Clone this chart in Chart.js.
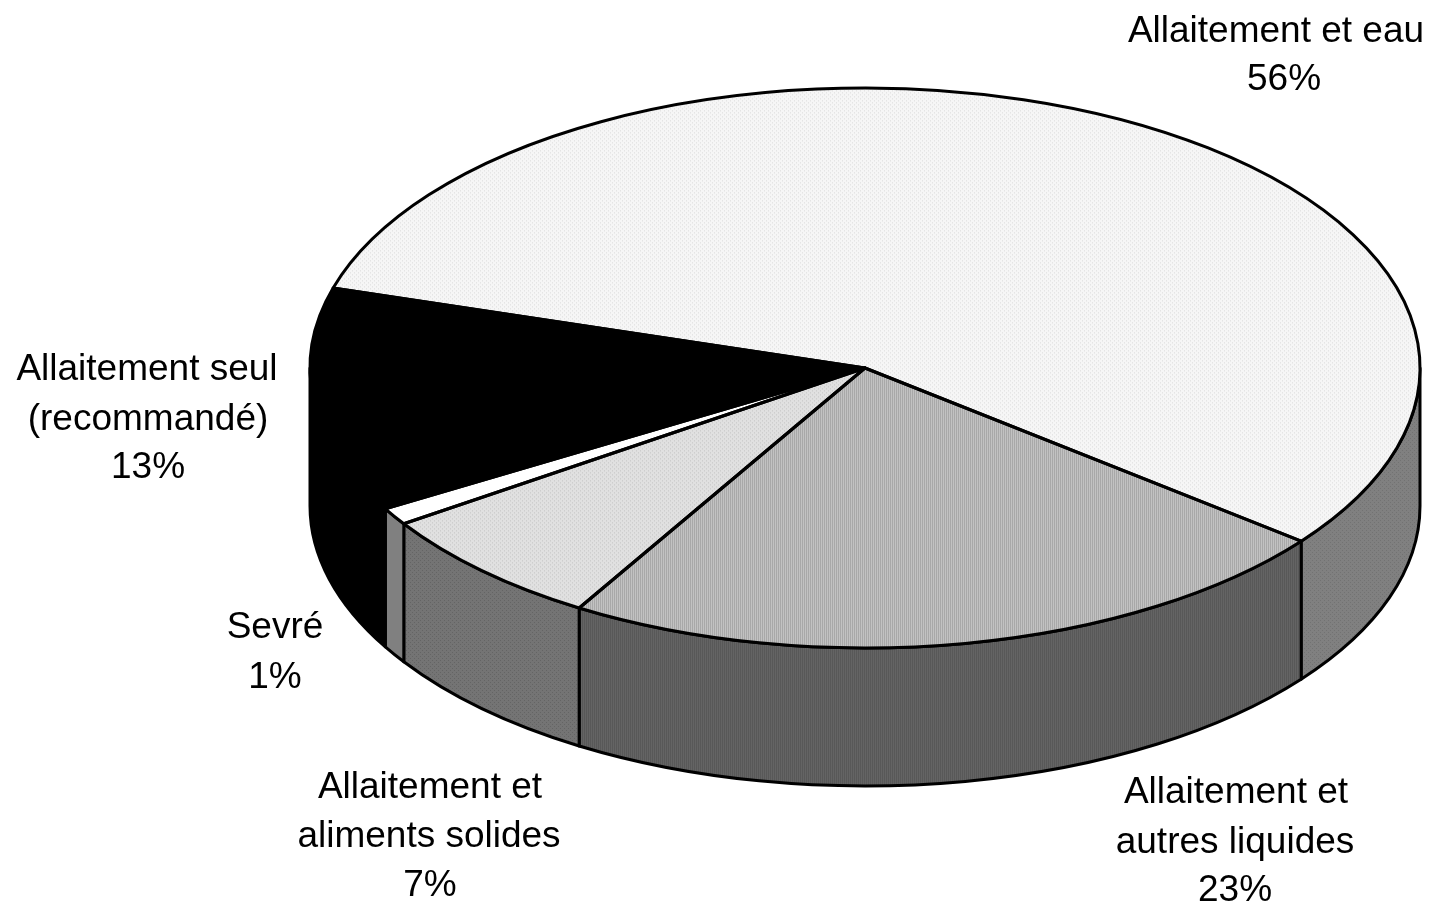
<!DOCTYPE html>
<html>
<head>
<meta charset="utf-8">
<title>Allaitement</title>
<script src="https://cdn.jsdelivr.net/npm/chart.js@4/dist/chart.umd.min.js"></script>
<style>
  html, body { margin: 0; padding: 0; background: #fff; }
  canvas { display: block; }
</style>
</head>
<body>
<canvas id="pie" width="1438" height="902"></canvas>
<script>
// ── DATA ──
const categories = ['Allaitement et eau', 'Allaitement et autres liquides', 'Allaitement et aliments solides', 'Sevré', 'Allaitement seul (recommandé)'];
const values = [56, 23, 7, 1, 13];

// label lines, one list per slice (same order as categories)
const labelLines = [
  ['Allaitement et eau', '56%'],
  ['Allaitement et', 'autres liquides', '23%'],
  ['Allaitement et', 'aliments solides', '7%'],
  ['Sevré', '1%'],
  ['Allaitement seul', '(recommandé)', '13%']
];
const labelX = [[1276, 1284], [1236, 1235, 1235], [430, 429, 430], [275, 275], [147, 148, 148]];
const labelY = [[42, 90], [803, 853, 901], [798, 847, 896], [638, 688], [380, 430, 478]];

// ── LOOK ──
const CX = 865, CY = 368, RX = 555, RY = 280, DEPTH = 138;
const SQUASH = RY / RX;

function dotted(base, dot, w, h, squash) {
  const tile = document.createElement('canvas');
  tile.width = w; tile.height = h;
  const c = tile.getContext('2d');
  c.fillStyle = base;
  c.fillRect(0, 0, w, h);
  c.fillStyle = dot;
  c.fillRect(0, 0, 1, 1);
  if (h > 2) c.fillRect(2, 2, 1, 1);
  const p = c.createPattern(tile, 'repeat');
  if (squash) p.setTransform(new DOMMatrix().scale(1, 1 / squash));
  return p;
}

const topFill = [
  dotted('#f6f6f6', '#dcdcdc', 4, 4, SQUASH),
  dotted('#c2c2c2', '#a8a8a8', 2, 1, SQUASH),
  dotted('#e0e0e0', '#c4c4c4', 4, 4, SQUASH),
  '#ffffff',
  '#000000'
];
const sideFill = [
  dotted('#808080', '#727272', 4, 4),
  dotted('#646464', '#585858', 2, 1),
  dotted('#747474', '#646464', 4, 4),
  '#808080',
  '#000000'
];

// ── 3D PLUGIN ──
const pie3d = {
  id: 'pie3d',
  beforeDatasetsDraw(chart) {
    const ctx = chart.ctx;
    const arcs = chart.getDatasetMeta(0).data;
    ctx.save();
    ctx.lineWidth = 3;
    ctx.strokeStyle = '#000';
    ctx.lineJoin = 'round';
    arcs.forEach((arc, i) => {
      const { x, y, startAngle, endAngle, outerRadius } = arc.getProps(['x', 'y', 'startAngle', 'endAngle', 'outerRadius']);
      // only the front half of the rim is visible
      for (let turn = -1; turn <= 2; turn++) {
        const base = turn * 2 * Math.PI;
        const a = Math.max(startAngle, base);
        const b = Math.min(endAngle, base + Math.PI);
        if (b <= a) continue;
        const ry = outerRadius * SQUASH;
        ctx.beginPath();
        ctx.ellipse(x, y, outerRadius, ry, 0, a, b);
        ctx.ellipse(x, y + DEPTH, outerRadius, ry, 0, b, a, true);
        ctx.closePath();
        ctx.fillStyle = sideFill[i];
        ctx.fill();
        ctx.stroke();
      }
    });
    ctx.restore();
    // squash the real pie into the ellipse of the top face
    const { x, y } = arcs[0];
    ctx.save();
    ctx.translate(x, y);
    ctx.scale(1, SQUASH);
    ctx.translate(-x, -y);
  },
  afterDatasetsDraw(chart) {
    const ctx = chart.ctx;
    ctx.restore();
    ctx.save();
    ctx.lineWidth = 3;
    ctx.strokeStyle = '#000';
    ctx.lineJoin = 'round';
    chart.getDatasetMeta(0).data.forEach(arc => {
      const { x, y, startAngle, endAngle, outerRadius } = arc.getProps(['x', 'y', 'startAngle', 'endAngle', 'outerRadius']);
      ctx.beginPath();
      ctx.moveTo(x, y);
      ctx.ellipse(x, y, outerRadius, outerRadius * SQUASH, 0, startAngle, endAngle);
      ctx.closePath();
      ctx.stroke();
    });
    // slice labels
    ctx.fillStyle = '#000';
    ctx.font = '37px "Liberation Sans", Arial, sans-serif';
    ctx.textAlign = 'center';
    ctx.textBaseline = 'alphabetic';
    labelLines.forEach((lines, i) => {
      lines.forEach((line, j) => ctx.fillText(line, labelX[i][j], labelY[i][j]));
    });
    ctx.restore();
  }
};

// ── CHART ──
new Chart(document.getElementById('pie'), {
  type: 'pie',
  data: {
    labels: categories,
    datasets: [{
      data: values,
      backgroundColor: topFill,
      borderWidth: 0,
      clip: false
    }]
  },
  options: {
    responsive: false,
    animation: false,
    radius: RX,
    rotation: 286.6,
    layout: { padding: { left: 2 * CX - 1438, bottom: 902 - 2 * CY } },
    plugins: { legend: { display: false }, tooltip: { enabled: false }, title: { display: false } }
  },
  plugins: [pie3d]
});
</script>
</body>
</html>
